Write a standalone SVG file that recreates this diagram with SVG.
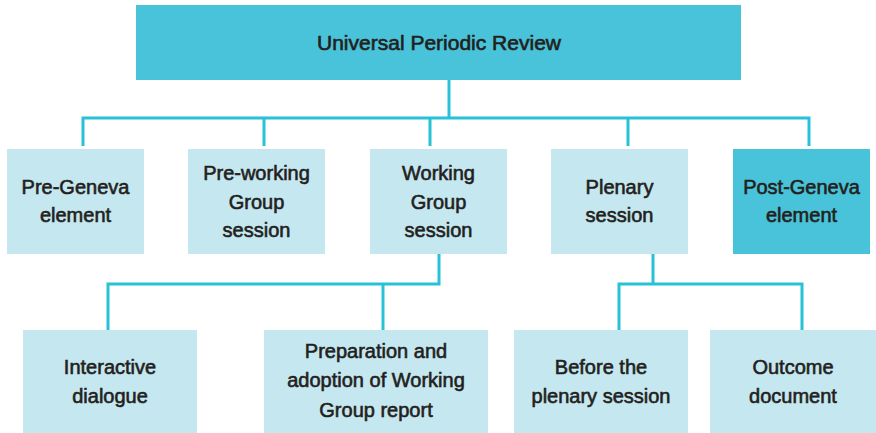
<svg xmlns="http://www.w3.org/2000/svg" width="876" height="433" viewBox="0 0 876 433">
<style>
.dark{fill:#48c3d9}
.light{fill:#c5e7f0}
.t{font-family:"Liberation Sans",Arial,sans-serif;font-size:20px;fill:#231f20;stroke:#231f20;stroke-width:0.6;text-anchor:middle}
.c{fill:none;stroke:#27c1d8;stroke-width:3;stroke-linejoin:miter}
</style>
<rect width="876" height="433" fill="#fff"/>
<g id="connectors">
<path class="c" d="M449 80V118M83 146V118H809V146M264 118V146M430 118V146M628 118V146"/>
<path class="c" d="M439 254V284H108V330M383 284V330"/>
<path class="c" d="M653 254V284M619 330V284H802V330"/>
</g>
<g id="upr"><rect class="dark" x="136" y="5" width="605" height="75"/><text class="t" x="439" y="50" textLength="244" lengthAdjust="spacingAndGlyphs">Universal Periodic Review</text></g>
<g id="pre-geneva"><rect class="light" x="7" y="149" width="137" height="105"/><text class="t" x="75.5" y="194">Pre-Geneva</text><text class="t" x="75.5" y="222">element</text></g>
<g id="pre-working"><rect class="light" x="188" y="149" width="137" height="105"/><text class="t" x="256.5" y="180">Pre-working</text><text class="t" x="256.5" y="209">Group</text><text class="t" x="256.5" y="237">session</text></g>
<g id="working"><rect class="light" x="370" y="149" width="137" height="105"/><text class="t" x="438.5" y="180">Working</text><text class="t" x="438.5" y="209">Group</text><text class="t" x="438.5" y="237">session</text></g>
<g id="plenary"><rect class="light" x="551" y="149" width="137" height="105"/><text class="t" x="619.5" y="194">Plenary</text><text class="t" x="619.5" y="222">session</text></g>
<g id="post-geneva"><rect class="dark" x="733" y="149" width="137" height="105"/><text class="t" x="801.5" y="194">Post-Geneva</text><text class="t" x="801.5" y="222">element</text></g>
<g id="interactive"><rect class="light" x="23" y="330" width="174" height="103"/><text class="t" x="110" y="374">Interactive</text><text class="t" x="110" y="403">dialogue</text></g>
<g id="preparation"><rect class="light" x="264" y="330" width="224" height="103"/><text class="t" x="376" y="358">Preparation and</text><text class="t" x="376" y="387">adoption of Working</text><text class="t" x="376" y="417">Group report</text></g>
<g id="before"><rect class="light" x="514" y="330" width="174" height="103"/><text class="t" x="601" y="374">Before the</text><text class="t" x="601" y="403">plenary session</text></g>
<g id="outcome"><rect class="light" x="710" y="330" width="166" height="103"/><text class="t" x="793" y="374">Outcome</text><text class="t" x="793" y="403">document</text></g>
</svg>
